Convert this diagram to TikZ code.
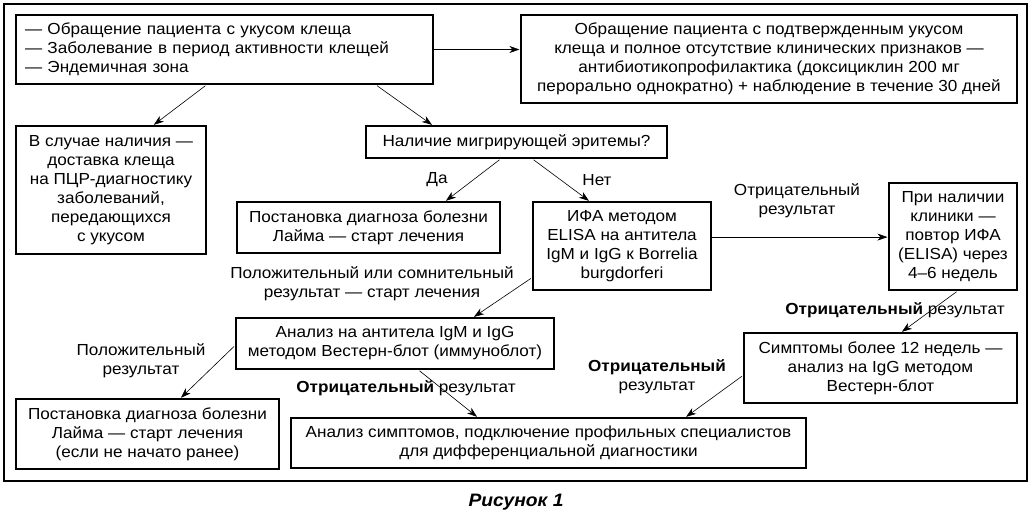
\documentclass[tikz,border=0pt]{standalone}
\usepackage{fontspec}
\setmainfont{Liberation Sans}[FakeStretch=1.07]
\usetikzlibrary{calc,arrows.meta}
\begin{document}
\begin{tikzpicture}[x=1pt,y=-1pt,
  box/.style={draw,line width=1.1pt,inner sep=0pt,align=center,font=\fontsize{16}{19}\selectfont},
  lbl/.style={inner sep=0pt,align=center,font=\fontsize{16}{19}\selectfont},
  conn/.style={line width=0.6pt,-{Stealth[length=10pt,width=7pt,inset=3pt]},shorten <=2pt,shorten >=1pt}]
\useasboundingbox (0,0) rectangle (1032,516);
\draw[line width=1.2pt] (4,4) rectangle (1027,481);
% boxes
\node[box,minimum width=417pt,minimum height=69pt,text width=399pt,align=left] (A) at (224.5,49.5)
  {— Обращение пациента с укусом клеща\\— Заболевание в период активности клещей\\— Эндемичная зона};
\node[box,minimum width=496pt,minimum height=88pt] (B) at (769,59)
  {Обращение пациента с подтвержденным укусом\\клеща и полное отсутствие клинических признаков —\\антибиотикопрофилактика (доксициклин 200 мг\\перорально однократно) + наблюдение в течение 30 дней};
\node[box,minimum width=190pt,minimum height=128pt] (C) at (111,190)
  {В случае наличия —\\доставка клеща\\на ПЦР-диагностику\\заболеваний,\\передающихся\\с укусом};
\node[box,minimum width=301pt,minimum height=32pt] (D) at (516.5,142)
  {Наличие мигрирующей эритемы?};
\node[box,minimum width=263pt,minimum height=51pt] (E) at (368.5,227.5)
  {Постановка диагноза болезни\\Лайма — старт лечения};
\node[box,minimum width=178pt,minimum height=88pt] (F) at (622,246)
  {ИФА методом\\ELISA на антитела\\IgM и IgG к Borrelia\\burgdorferi};
\node[box,minimum width=128pt,minimum height=107pt] (G) at (953,236.5)
  {При наличии\\клиники —\\повтор ИФА\\(ELISA) через\\4–6 недель};
\node[box,minimum width=318pt,minimum height=51pt] (H) at (395,343.5)
  {Анализ на антитела IgM и IgG\\методом Вестерн-блот (иммуноблот)};
\node[box,minimum width=263pt,minimum height=70pt] (I) at (147.5,434)
  {Постановка диагноза болезни\\Лайма — старт лечения\\(если не начато ранее)};
\node[box,minimum width=515pt,minimum height=50pt] (J) at (548.5,443)
  {Анализ симптомов, подключение профильных специалистов\\для дифференциальной диагностики};
\node[box,minimum width=273pt,minimum height=70pt] (K) at (880.5,368)
  {Симптомы более 12 недель —\\анализ на IgG методом\\Вестерн-блот};
% labels
\node[lbl] (lda) at (437,180) {Да};
\node[lbl] (lnet) at (597,180) {Нет};
\node[lbl] (lneg1) at (797,201) {Отрицательный\\результат};
\node[lbl] (lpos1) at (372,284) {Положительный или сомнительный\\результат — старт лечения};
\node[lbl] (lpos2) at (141,361) {Положительный\\результат};
\node[lbl] (lneg2) at (406,388) {\textbf{Отрицательный} результат};
\node[lbl] (lneg3) at (895,310) {\textbf{Отрицательный} результат};
\node[lbl] (lneg4) at (657,377) {\textbf{Отрицательный}\\результат};
\node[inner sep=0pt,font=\fontsize{18}{19}\selectfont\bfseries\itshape] (cap) at (516,502) {Рисунок 1};
% connectors
\draw[conn,shorten <=0pt] (A.east) -- (A.east -| B.west);
\draw[conn] ($(A.south west)!0.458!(A.south east)$) -- ($(C.north west)!0.72!(C.north east)$);
\draw[conn] ($(A.south west)!0.861!(A.south east)$) -- ($(D.north west)!0.223!(D.north east)$);
\draw[conn] ($(D.south west)!0.449!(D.south east)$) -- ($(E.north west)!0.79!(E.north east)$);
\draw[conn] ($(D.south west)!0.551!(D.south east)$) -- ($(F.north west)!0.32!(F.north east)$);
\coordinate (fg) at ($(F.north east)!0.4!(F.south east)$);
\draw[conn,shorten <=0pt] (fg) -- (fg -| G.west);
\draw[conn] ($(F.north west)!0.852!(F.south west)$) -- ($(H.north west)!0.745!(H.north east)$);
\draw[conn] ($(H.north west)!0.53!(H.south west)$) -- ($(I.north west)!0.624!(I.north east)$);
\draw[conn] ($(H.south west)!0.572!(H.south east)$) -- ($(J.north west)!0.363!(J.north east)$);
\draw[conn] ($(G.south west)!0.54!(G.south east)$) -- ($(K.north west)!0.575!(K.north east)$);
\draw[conn] ($(K.north west)!0.6!(K.south west)$) -- ($(J.north west)!0.765!(J.north east)$);
\end{tikzpicture}
\end{document}
